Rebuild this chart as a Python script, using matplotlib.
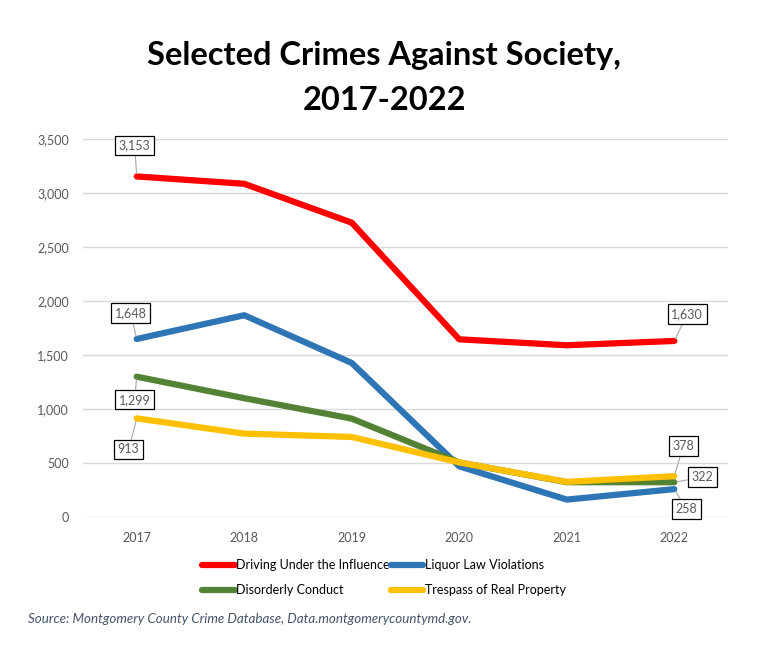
import matplotlib
matplotlib.use("Agg")
import matplotlib.pyplot as plt
from matplotlib.ticker import FuncFormatter

plt.rcParams['font.family'] = ['Lato', 'DejaVu Sans']

years = ["2017", "2018", "2019", "2020", "2021", "2022"]
dui = [3153, 3085, 2725, 1645, 1590, 1630]
liquor = [1648, 1868, 1426, 469, 161, 258]
disorderly = [1299, 1100, 911, 505, 322, 322]
trespass = [913, 772, 741, 505, 325, 378]

names = ["Driving Under the Influence", "Liquor Law Violations",
         "Disorderly Conduct", "Trespass of Real Property"]
colors = ["#FF0000", "#2E75B6", "#548235", "#FFC000"]

fig = plt.figure(figsize=(7.68, 6.54), dpi=100)
ax = fig.add_axes([0.108, 0.2095, 0.840, 0.578])

x = list(range(len(years)))
lines = []
for vals, name, c in zip([dui, liquor, disorderly, trespass], names, colors):
    ln, = ax.plot(x, vals, color=c, lw=4.5, solid_capstyle="round",
                  solid_joinstyle="round", label=name)
    lines.append(ln)

ax.set_xlim(-0.5, 5.5)
ax.set_ylim(0, 3500)
ax.set_yticks(range(0, 3501, 500))
ax.yaxis.set_major_formatter(FuncFormatter(lambda v, p: f"{int(v):,}"))
ax.set_xticks(x)
ax.set_xticklabels(years)
ax.grid(axis="y", color="#d9d9d9", lw=1)
ax.set_axisbelow(True)
for s in ax.spines.values():
    s.set_visible(False)
ax.tick_params(length=0, labelsize=9, colors="#595959", pad=10)
ax.tick_params(axis="x", pad=11)

# data labels: (series, index, offset in pixels)
labels = [
    (dui, 0, (-2, 31)),
    (liquor, 0, (-6, 26)),
    (disorderly, 0, (-2, -23)),
    (trespass, 0, (-8, -31)),
    (dui, 5, (13, 27)),
    (trespass, 5, (9, 30)),
    (disorderly, 5, (28, 5)),
    (liquor, 5, (12, -20)),
]
for vals, i, off in labels:
    ax.annotate(f"{vals[i]:,}", xy=(i, vals[i]), xytext=off,
                textcoords="offset pixels", ha="center", va="center",
                fontsize=9, color="#595959",
                bbox=dict(boxstyle="square,pad=0.3", fc="white", ec="black", lw=0.9),
                arrowprops=dict(arrowstyle="-", color="#a6a6a6", lw=0.8,
                                shrinkA=0, shrinkB=2))

fig.text(0.5, 0.9006, "Selected Crimes Against Society,", ha="center", va="baseline",
         fontsize=23.5, fontweight="bold")
fig.text(0.5, 0.8318, "2017-2022", ha="center", va="baseline",
         fontsize=23.5, fontweight="bold")

order = [0, 2, 1, 3]
fig.legend([lines[k] for k in order], [names[k] for k in order], ncol=2,
           loc="center", bbox_to_anchor=(0.5, 0.117), frameon=False,
           fontsize=9, handlelength=2.6, handletextpad=0.1, columnspacing=0.1,
           labelspacing=1.05)

fig.text(0.037, 0.053, "Source: Montgomery County Crime Database, Data.montgomerycountymd.gov.",
         fontsize=9.6, style="italic", color="#44546A", va="center")

fig.savefig("out.png", dpi=100)
